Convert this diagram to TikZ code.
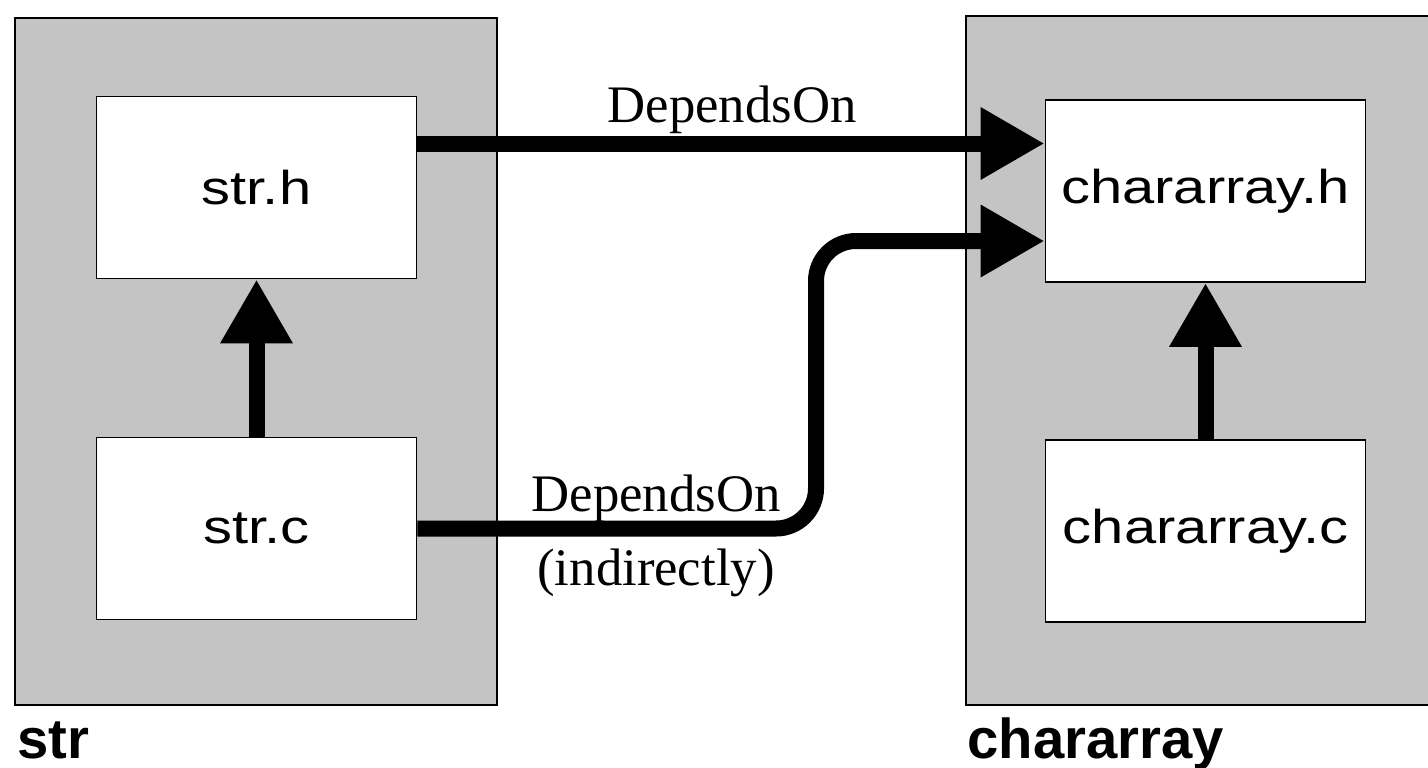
\documentclass[tikz,border=0pt]{standalone}
\usepackage{fontspec}
\setmainfont{Liberation Serif}
\setsansfont{Liberation Sans}
\newfontfamily\filefamily[FakeStretch=1.22]{Liberation Sans}
\usetikzlibrary{arrows.meta}
\usetikzlibrary{calc}

\definecolor{pkgfill}{gray}{0.77}

\begin{document}
\begin{tikzpicture}[
    srcfile/.style={draw, fill=white, line width=0.5pt, minimum width=3.2cm, minimum height=1.82cm, inner sep=0pt, font={\filefamily\fontsize{13.5}{16}\selectfont}},
    dep/.style={line width=1.6mm, -{Triangle[length=6.4mm, width=6.8mm]}},
    deplabel/.style={anchor=base, font={\fontsize{15}{18}\selectfont}},
    pkglabel/.style={anchor=base west, inner sep=0pt, font={\sffamily\bfseries\fontsize{16}{19}\selectfont}}]
      \useasboundingbox (0,0) rectangle (14.28,7.67);

      % packages
      \fill[pkgfill] (0.15,0.62) rectangle (4.97,7.49);
      \draw[line width=0.6pt] (0.15,0.62) rectangle (4.97,7.49);
      \fill[pkgfill] (9.66,0.62) rectangle (14.28,7.51);
      \draw[line width=0.6pt] (14.28,7.51) -- (9.66,7.51) -- (9.66,0.62) -- (14.28,0.62);
      \node[pkglabel] (strpkg) at (0.17,0.09) {str};
      \node[pkglabel] (charpkg) at (9.67,0.09) {chararray};

      % files
      \node[srcfile] (strh) at (2.565,5.795) {str.h};
      \node[srcfile] (strc) at (2.565,2.385) {str.c};
      \node[srcfile] (charh) at (12.055,5.76) {chararray.h};
      \node[srcfile] (charc) at (12.055,2.36) {chararray.c};

      \coordinate (bend) at (8.16,4);

      \draw[dep] (strc.north) -- (strh.south);
      \draw[dep] (charc.north) -- (charh.south);
      \draw[dep] ([yshift=4.4mm]strh.east) -- ([yshift=4.4mm]strh.east -| charh.west);
      \draw[dep, rounded corners=4mm] (strc.east) -| (bend) |- ([yshift=-5mm]charh.west);

      \node[deplabel] (dep1) at (7.32,6.45) {DependsOn};
      \node[deplabel] (dep2) at (6.56,2.56) {DependsOn};
      \node[deplabel] (dep2b) at (6.56,1.82) {(indirectly)};
    \end{tikzpicture}
\end{document}
